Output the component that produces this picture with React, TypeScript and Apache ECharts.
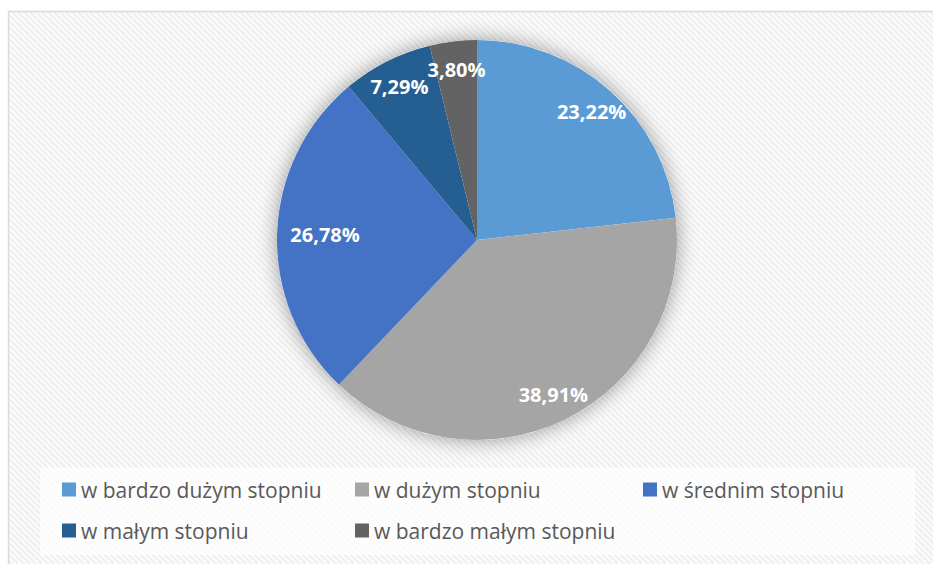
import React, { useEffect, useRef } from "react";
import * as echarts from "echarts";

const categories = [
  "w bardzo dużym stopniu",
  "w dużym stopniu",
  "w średnim stopniu",
  "w małym stopniu",
  "w bardzo małym stopniu",
];
const values = [23.22, 38.91, 26.78, 7.29, 3.8];
const colors = ["#5B9BD5", "#A5A5A5", "#4472C4", "#255E91", "#636363"];

const legendCol1 = [categories[0], categories[3]];
const legendCol2 = [categories[1], categories[4]];
const legendCol3 = [categories[2]];

function makePattern(): HTMLCanvasElement {
  const c = document.createElement("canvas");
  c.width = 6;
  c.height = 6;
  const ctx = c.getContext("2d")!;
  ctx.fillStyle = "#fbfbfb";
  ctx.fillRect(0, 0, 6, 6);
  ctx.strokeStyle = "#ececec";
  ctx.lineWidth = 1.5;
  ctx.beginPath();
  ctx.moveTo(-1, -1);
  ctx.lineTo(7, 7);
  ctx.moveTo(-1, 5);
  ctx.lineTo(1, 7);
  ctx.moveTo(5, -1);
  ctx.lineTo(7, 1);
  ctx.stroke();
  return c;
}

export default function App() {
  const ref = useRef<HTMLDivElement>(null);
  useEffect(() => {
    document.body.style.margin = "0";
    const chart = echarts.init(ref.current!, undefined, { renderer: "svg" });
    const pattern = makePattern();
    const fmt = (p: any) => p.value.toFixed(2).replace(".", ",") + "%";
    const legendBase = {
      orient: "vertical" as const,
      top: 479,
      padding: 0,
      itemWidth: 14,
      itemHeight: 14,
      itemGap: 20,
      icon: "rect",
      textStyle: { color: "#595959", fontSize: 21, fontFamily: "Open Sans" },
      selectedMode: false,
    };
    chart.setOption({
      animation: false,
      graphic: [
        {
          type: "rect",
          z: -10,
          shape: { x: 8.5, y: 11.5, width: 940, height: 570 },
          style: { fill: { image: pattern, repeat: "repeat" } as any, stroke: "#d9d9d9", lineWidth: 1.5 },
        },
        {
          type: "rect",
          z: -9,
          shape: { x: 40, y: 468, width: 875, height: 87 },
          style: { fill: "rgba(255,255,255,0.75)" },
        },
      ],
      legend: [
        { ...legendBase, left: 62, data: legendCol1 },
        { ...legendBase, left: 355, data: legendCol2 },
        { ...legendBase, left: 643, data: legendCol3 },
      ],
      series: [
        {
          type: "pie",
          z: 2,
          center: [477, 240],
          radius: [0, 200],
          startAngle: 90,
          silent: true,
          label: { show: false },
          labelLine: { show: false },
          data: categories.map((n, i) => ({ name: n, value: values[i], itemStyle: { color: colors[i] } })),
        },
        {
          type: "pie",
          z: 3,
          center: [477, 240],
          radius: [138, 200],
          startAngle: 90,
          silent: true,
          avoidLabelOverlap: false,
          itemStyle: { color: "rgba(0,0,0,0)" },
          label: {
            show: true,
            position: "inside",
            formatter: fmt,
            color: "#ffffff",
            fontSize: 20,
            fontWeight: "bold",
            fontFamily: "Open Sans",
          },
          labelLine: { show: false },
          labelLayout: { hideOverlap: false },
          data: categories.map((n, i) => ({
            name: n,
            value: values[i],
            label: i === 2 ? { offset: [20, 0] } : undefined,
          })),
        },
        {
          type: "pie",
          z: 1,
          center: [477, 240],
          radius: [0, 200],
          silent: true,
          label: { show: false },
          labelLine: { show: false },
          itemStyle: { color: "#ffffff", shadowBlur: 20, shadowColor: "rgba(0,0,0,0.4)" },
          data: [{ name: "tło", value: 1 }],
        },
      ],
    });
    return () => chart.dispose();
  }, []);
  return <div ref={ref} style={{ width: 933, height: 564 }} />;
}
